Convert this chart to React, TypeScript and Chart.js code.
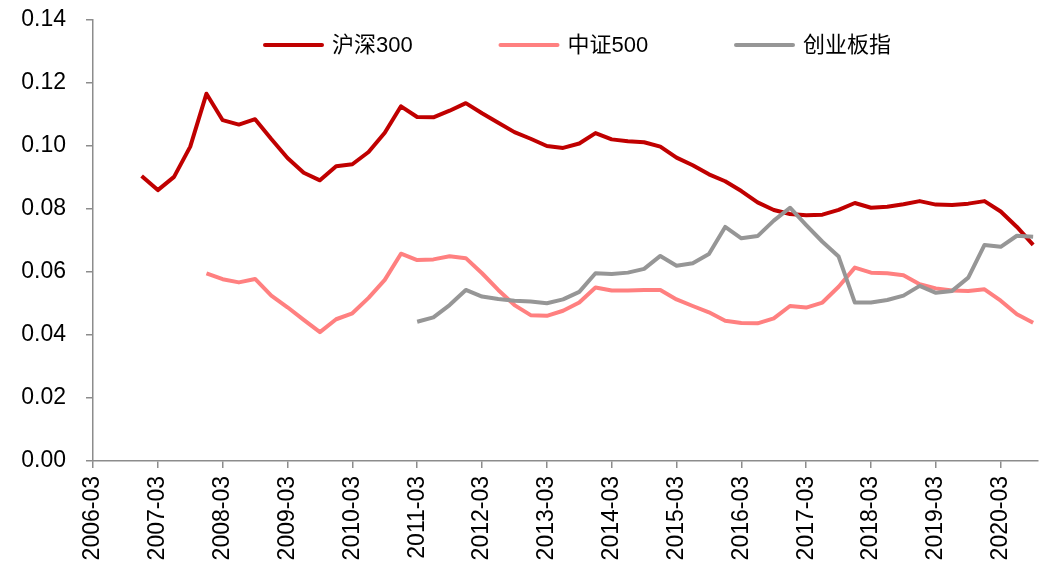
import React, { useEffect, useRef } from 'react';
import { Chart, registerables } from 'chart.js';

Chart.register(...registerables);

const quarters = [
  '2006-03', '2006-06', '2006-09', '2006-12',
  '2007-03', '2007-06', '2007-09', '2007-12',
  '2008-03', '2008-06', '2008-09', '2008-12',
  '2009-03', '2009-06', '2009-09', '2009-12',
  '2010-03', '2010-06', '2010-09', '2010-12',
  '2011-03', '2011-06', '2011-09', '2011-12',
  '2012-03', '2012-06', '2012-09', '2012-12',
  '2013-03', '2013-06', '2013-09', '2013-12',
  '2014-03', '2014-06', '2014-09', '2014-12',
  '2015-03', '2015-06', '2015-09', '2015-12',
  '2016-03', '2016-06', '2016-09', '2016-12',
  '2017-03', '2017-06', '2017-09', '2017-12',
  '2018-03', '2018-06', '2018-09', '2018-12',
  '2019-03', '2019-06', '2019-09', '2019-12',
  '2020-03', '2020-06', '2020-09',
];

const seriesNames = ['沪深300', '中证500', '创业板指'];
const seriesColors = ['#C00000', '#FF8080', '#969696'];

const hs300 = [
  null, null, null, 0.0905,
  0.0860, 0.0902, 0.0998, 0.1166,
  0.1082, 0.1068, 0.1085, 0.1022,
  0.0962, 0.0915, 0.0891, 0.0936,
  0.0942, 0.0981, 0.1042, 0.1126,
  0.1092, 0.1091, 0.1112, 0.1136,
  0.1104, 0.1074, 0.1044, 0.1023,
  0.1000, 0.0994, 0.1008, 0.1041,
  0.1021, 0.1015, 0.1012, 0.0998,
  0.0963, 0.0939, 0.0910, 0.0888,
  0.0857, 0.0821, 0.0797, 0.0784,
  0.0780, 0.0782, 0.0797, 0.0819,
  0.0804, 0.0807, 0.0815, 0.0825,
  0.0814, 0.0813, 0.0817, 0.0825,
  0.0792, 0.0743, 0.0686,
];

const zz500 = [
  null, null, null, null,
  null, null, null, 0.0596,
  0.0577, 0.0567, 0.0578, 0.0525,
  0.0488, 0.0448, 0.0409, 0.0450,
  0.0469, 0.0518, 0.0575, 0.0658,
  0.0638, 0.0640, 0.0650, 0.0644,
  0.0596, 0.0543, 0.0495, 0.0463,
  0.0461, 0.0477, 0.0503, 0.0551,
  0.0541, 0.0541, 0.0543, 0.0543,
  0.0513, 0.0492, 0.0472, 0.0445,
  0.0438, 0.0437, 0.0453, 0.0492,
  0.0487, 0.0503, 0.0553, 0.0614,
  0.0598, 0.0596, 0.0590, 0.0561,
  0.0548, 0.0541, 0.0540, 0.0545,
  0.0509, 0.0466, 0.0439,
];

const cyb = [
  null, null, null, null,
  null, null, null, null,
  null, null, null, null,
  null, null, null, null,
  null, null, null, null,
  0.0442, 0.0456, 0.0495, 0.0543,
  0.0522, 0.0514, 0.0509, 0.0506,
  0.0501, 0.0513, 0.0537, 0.0596,
  0.0594, 0.0598, 0.0610, 0.0651,
  0.0620, 0.0628, 0.0657, 0.0743,
  0.0707, 0.0714, 0.0763, 0.0804,
  0.0749, 0.0696, 0.0649, 0.0503,
  0.0503, 0.0511, 0.0525, 0.0556,
  0.0534, 0.0540, 0.0582, 0.0686,
  0.0680, 0.0715, 0.0712,
];

const yTicks = [0, 0.02, 0.04, 0.06, 0.08, 0.10, 0.12, 0.14];

const toPoints = (arr: (number | null)[]) =>
  arr
    .map((v, i) => (v === null ? null : { x: i, y: v }))
    .filter((p) => p !== null) as { x: number; y: number }[];

const FONT_FAMILY = '"Liberation Sans", Arial, "Noto Sans CJK SC", sans-serif';

const insideLegend = {
  id: 'insideLegend',
  afterDraw(chart: any) {
    const { ctx, chartArea } = chart;
    ctx.save();
    ctx.font = `22px ${FONT_FAMILY}`;
    ctx.textBaseline = 'middle';
    ctx.textAlign = 'left';
    const y = chartArea.top + 25;
    seriesNames.forEach((name, i) => {
      const x = chartArea.left + 171 + i * 235.5;
      ctx.strokeStyle = seriesColors[i];
      ctx.lineWidth = 4;
      ctx.lineCap = 'round';
      ctx.beginPath();
      ctx.moveTo(x + 1, y);
      ctx.lineTo(x + 58, y);
      ctx.stroke();
      ctx.fillStyle = '#000000';
      ctx.fillText(name, x + 68, y + 1);
    });
    ctx.restore();
  },
};

export default function App() {
  const canvasRef = useRef<HTMLCanvasElement | null>(null);

  useEffect(() => {
    document.body.style.margin = '0';
    const canvas = canvasRef.current;
    if (!canvas) return;
    const series = [hs300, zz500, cyb];
    const chart = new Chart(canvas, {
      type: 'line',
      data: {
        datasets: series.map((arr, i) => ({
          label: seriesNames[i],
          data: toPoints(arr),
          borderColor: seriesColors[i],
          backgroundColor: seriesColors[i],
          borderWidth: 4,
          pointRadius: 0,
          tension: 0,
          fill: false,
          borderJoinStyle: 'round' as const,
          order: 3 - i,
        })),
      },
      options: {
        animation: false,
        responsive: true,
        maintainAspectRatio: false,
        layout: { padding: { top: 20, right: 15, left: 0, bottom: 0 } },
        plugins: {
          legend: { display: false },
          tooltip: { enabled: false },
        },
        scales: {
          x: {
            type: 'linear',
            min: 0,
            max: 58.3,
            afterFit: (s: any) => {
              s.height = 115;
              s.paddingLeft = 0;
              s.paddingRight = 0;
            },
            afterBuildTicks: (s: any) => {
              s.ticks = quarters
                .map((q, i) => ({ q, i }))
                .filter((o) => o.q.endsWith('-03'))
                .map((o) => ({ value: o.i }));
            },
            ticks: {
              autoSkip: false,
              minRotation: 90,
              maxRotation: 90,
              padding: 8,
              color: '#000000',
              font: { family: FONT_FAMILY, size: 23 },
              callback: (v: any) => quarters[Number(v)] ?? '',
            },
            grid: {
              drawOnChartArea: false,
              drawTicks: true,
              tickLength: 7,
              color: '#8c8c8c',
              lineWidth: 1.5,
            },
            border: { display: true, color: '#8c8c8c', width: 1.5 },
          },
          y: {
            type: 'linear',
            min: 0,
            max: 0.14,
            afterFit: (s: any) => {
              s.width = 93;
              s.paddingTop = 0;
              s.paddingBottom = 0;
            },
            afterBuildTicks: (s: any) => {
              s.ticks = yTicks.map((v) => ({ value: v }));
            },
            ticks: {
              padding: 20,
              color: '#000000',
              font: { family: FONT_FAMILY, size: 23 },
              callback: (v: any) => Number(v).toFixed(2),
            },
            grid: {
              drawOnChartArea: false,
              drawTicks: true,
              tickLength: 7,
              color: '#8c8c8c',
              lineWidth: 1.5,
            },
            border: { display: true, color: '#8c8c8c', width: 1.5 },
          },
        },
      },
      plugins: [insideLegend],
    });
    return () => chart.destroy();
  }, []);

  return (
    <div style={{ position: 'relative', width: 1053, height: 576 }}>
      <canvas ref={canvasRef} />
    </div>
  );
}
